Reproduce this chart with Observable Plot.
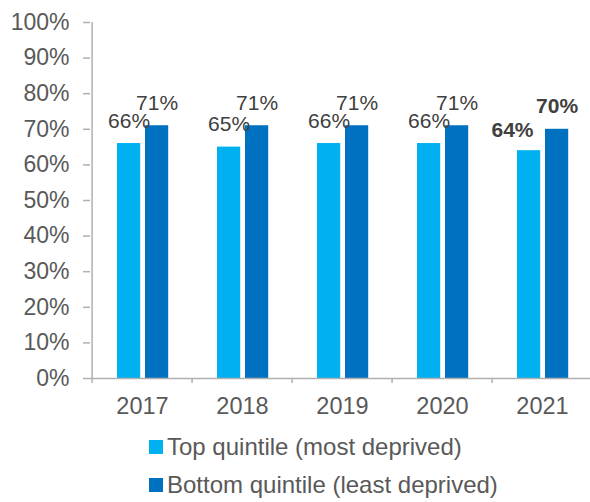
<!DOCTYPE html>
<html>
<head>
<meta charset="utf-8">
<script src="https://cdn.jsdelivr.net/npm/d3@7"></script>
<script src="https://cdn.jsdelivr.net/npm/@observablehq/plot@0.6"></script>
<style>
  body { margin: 0; background: #fff; font-family: "Liberation Sans", Arial, sans-serif; }
  #chart { width: 590px; }
  .legend { padding-left: 149px; margin-top: 3px; }
  .legend .row { display: flex; align-items: center; height: 38px; font-size: 24px; color: #595959; }
  .legend .sw { width: 14px; height: 14px; margin-right: 4px; flex: none; }
</style>
</head>
<body>
<div id="chart"></div>
<script>
const years = ["2017", "2018", "2019", "2020", "2021"];
const topQuintile = [0.66, 0.65, 0.66, 0.66, 0.64];     // most deprived
const bottomQuintile = [0.71, 0.71, 0.71, 0.71, 0.70];  // least deprived
const boldYears = ["2021"];
const seriesNames = ["Top quintile (most deprived)", "Bottom quintile (least deprived)"];
const seriesColors = ["#00B0F0", "#0070C0"];
const yTicks = [0, 0.1, 0.2, 0.3, 0.4, 0.5, 0.6, 0.7, 0.8, 0.9, 1.0];

const topData = years.map((y, i) => ({year: y, value: topQuintile[i]}));
const bottomData = years.map((y, i) => ({year: y, value: bottomQuintile[i]}));
const pct = d3.format(".0%");

const W = 590, H = 425;
const xRange = [90, 594];
const bw = (xRange[1] - xRange[0]) / years.length;
const axisColor = "#b0b0b0";
const isBold = d => boldYears.includes(d.year);

const plot = Plot.plot({
  width: W,
  height: H,
  marginLeft: 90,
  marginRight: 0,
  marginTop: 22,
  marginBottom: H - 378,
  style: {fontFamily: '"Liberation Sans", Arial, sans-serif', background: "#fff", overflow: "visible"},
  x: {domain: years, range: xRange, padding: 0, axis: null},
  y: {domain: [0, 1], axis: null},
  marks: [
    Plot.barY(topData, {x: "year", y: "value", fill: seriesColors[0], insetLeft: 25, insetRight: bw - 49}),
    Plot.barY(bottomData, {x: "year", y: "value", fill: seriesColors[1], insetLeft: 53, insetRight: bw - 77}),
    Plot.ruleY([0], {stroke: axisColor, strokeWidth: 1.5}),
    Plot.ruleX([years[0]], {y1: 0, y2: 1, dx: -bw / 2, stroke: axisColor, strokeWidth: 1.5}),
    Plot.axisY({ticks: yTicks, tickFormat: pct, tickSize: 7, tickPadding: 14, fontSize: 23, fill: "#595959", stroke: axisColor, strokeWidth: 1.5, label: null}),
    Plot.axisX({tickSize: 5, tickFormat: () => "", dx: -bw / 2, stroke: axisColor, strokeWidth: 1.5, label: null}),
    Plot.axisX({tickSize: 0, tickPadding: 19, fontSize: 23.5, fill: "#595959", label: null}),
    Plot.text(topData.filter(d => !isBold(d)), {x: "year", y: "value", text: d => pct(d.value), dx: -13.4, dy: -16, lineAnchor: "bottom", fontSize: 21, fill: "#404040"}),
    Plot.text(bottomData.filter(d => !isBold(d)), {x: "year", y: "value", text: d => pct(d.value), dx: 14.6, dy: -16, lineAnchor: "bottom", fontSize: 21, fill: "#404040"}),
    Plot.text(topData.filter(isBold), {x: "year", y: "value", text: d => pct(d.value), dx: -30, dy: -14, lineAnchor: "bottom", fontSize: 21, fontWeight: "bold", fill: "#404040"}),
    Plot.text(bottomData.filter(isBold), {x: "year", y: "value", text: d => pct(d.value), dx: 14.6, dy: -16, lineAnchor: "bottom", fontSize: 21, fontWeight: "bold", fill: "#404040"})
  ]
});
document.getElementById("chart").appendChild(plot);

const legend = document.createElement("div");
legend.className = "legend";
seriesNames.forEach((name, i) => {
  const row = document.createElement("div");
  row.className = "row";
  const sw = document.createElement("span");
  sw.className = "sw";
  sw.style.background = seriesColors[i];
  const label = document.createElement("span");
  label.textContent = name;
  row.appendChild(sw);
  row.appendChild(label);
  legend.appendChild(row);
});
document.getElementById("chart").appendChild(legend);
</script>
</body>
</html>
